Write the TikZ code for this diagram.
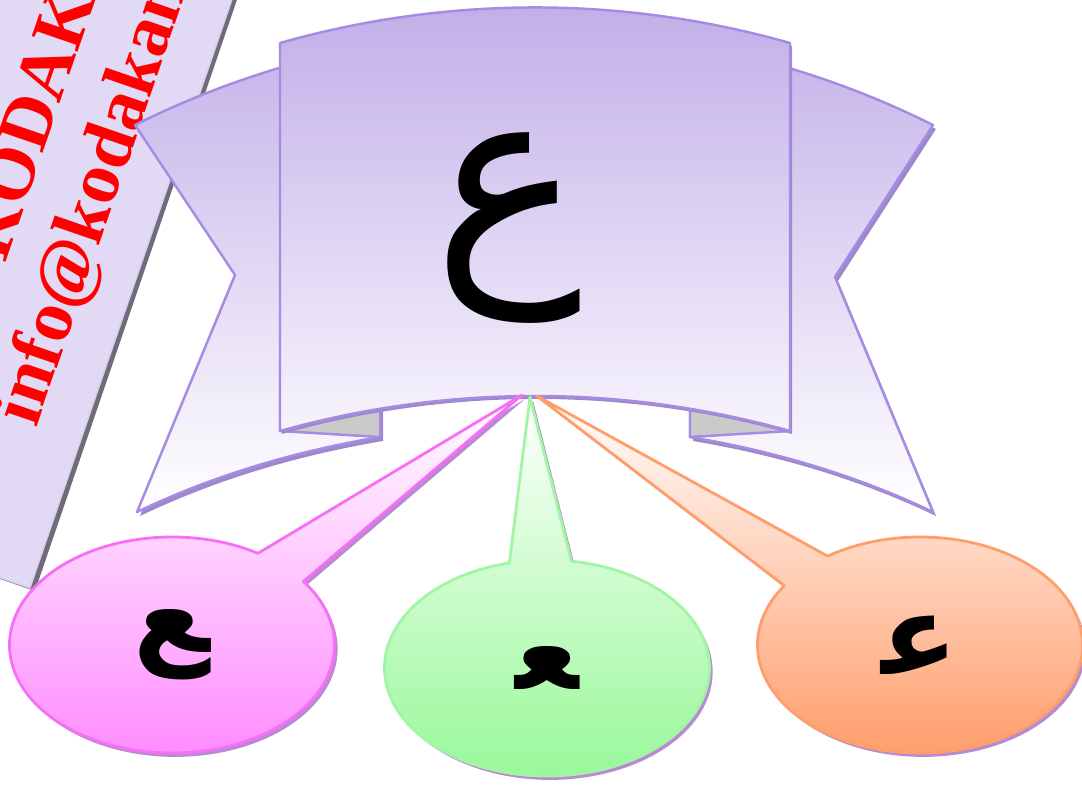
\documentclass[tikz,border=0pt]{standalone}
\usepackage{fontspec}
\usetikzlibrary{shapes.callouts, shadows}
\TeXXeTstate=1
\newfontfamily\arabicfont[Script=Arabic]{DejaVu Sans}
\newfontfamily\serifbold{Liberation Serif}

\definecolor{stripfill}{HTML}{E2DAF4}
\definecolor{stripline}{HTML}{D6CCEE}
\definecolor{stripshade}{HTML}{6E6C78}
\definecolor{ribbonline}{HTML}{A68BE2}
\definecolor{ribbontop}{HTML}{C0ADE8}
\definecolor{ribbonbottom}{HTML}{F7F4FC}
\definecolor{ribbonshade}{HTML}{9C89CC}
\definecolor{foldgray}{HTML}{CACACA}
\definecolor{pinkline}{HTML}{F76EF7}
\definecolor{pinkfill}{HTML}{FF88FF}
\definecolor{greenline}{HTML}{A2F5A2}
\definecolor{greenfill}{HTML}{96F896}
\definecolor{orangeline}{HTML}{FF9E6A}
\definecolor{orangefill}{HTML}{FF9A66}
\definecolor{bubbleshade}{HTML}{B98AD2}

\newcommand{\zwj}{^^^^200d}
\newcommand{\backribbon}{(1.35,6.59) .. controls (3.86,7.845) and (6.82,7.845) .. (9.33,6.59) -- (8.35,5.07) -- (9.33,2.72) .. controls (8.60,3.07) and (7.79,3.32) .. (6.90,3.47) -- (6.90,5.00) -- (3.80,5.00) -- (3.80,3.47) .. controls (2.91,3.32) and (2.10,3.07) .. (1.37,2.72) -- (2.35,5.09) -- cycle}
\newcommand{\frontpanel}{(2.80,7.41) .. controls (4.47,7.884) and (6.23,7.884) .. (7.90,7.41) -- (7.90,3.53) .. controls (6.23,3.997) and (4.47,3.997) .. (2.80,3.53) -- cycle}

\begin{document}
\begin{tikzpicture}[line join=round]
    \tikzstyle{ribbon} = [draw=ribbonline, line width=0.7pt]
    \tikzstyle{stripline} = [rotate=71, anchor=base west, inner sep=0pt, text=red, font=\serifbold\bfseries\fontsize{21}{21}\selectfont]
    \tikzstyle{bubble} = [ellipse callout, draw, line width=0.8pt, minimum width=3.25cm, minimum height=2.16cm, inner sep=0pt, callout pointer arc=22, top color=white, font=\arabicfont\bfseries\fontsize{32}{32}\selectfont, drop shadow={shadow xshift=0.9pt, shadow yshift=-1.1pt, fill=bubbleshade, opacity=1}]

    \useasboundingbox (0,0) rectangle (10.82,7.84);

    % Label strip
    \fill[stripshade] (0.35,1.93) -- (2.54,8.34) -- (-0.30,9.31) -- (-2.49,2.90) -- cycle;
    \fill[stripfill, draw=stripline] (0.30,1.96) -- (2.49,8.34) -- (-0.35,9.31) -- (-2.54,2.93) -- cycle;
    \node[stripline] (brand) at (0.05,5.20) {KODAKAN};
    \node[stripline] (mail) at (0.36,3.55) {info@kodakan.com};

    % Back ribbon
    \fill[ribbonshade, shift={(0.03,-0.04)}] \backribbon;
    \path[ribbon, top color=ribbontop, bottom color=white] \backribbon;

    % Folds
    \path[ribbon, fill=foldgray] (2.80,3.53) -- (3.80,3.47) -- (3.80,4.2) -- (2.80,4.2) -- cycle;
    \path[ribbon, fill=foldgray] (7.90,3.53) -- (6.90,3.47) -- (6.90,4.2) -- (7.90,4.2) -- cycle;

    % Front panel
    \fill[ribbonshade, shift={(0.02,-0.03)}] \frontpanel;
    \path[ribbon, top color=ribbontop, bottom color=ribbonbottom] \frontpanel;
    \node[font=\arabicfont\fontsize{71}{71}\selectfont] (ain) at (5.08,5.56) {\beginR ع\endR};

    % Pointer tips
    \coordinate (pinktip) at (5.22,3.89);
    \coordinate (greentip) at (5.30,3.87);
    \coordinate (orangetip) at (5.37,3.88);

    % Bubbles
    \node[bubble, draw=pinkline, bottom color=pinkfill, callout absolute pointer={(pinktip)}] (finalform) at (1.72,1.39) {\beginR\zwj ع\endR};
    \node[bubble, draw=greenline, bottom color=greenfill, callout absolute pointer={(greentip)}] (middleform) at (5.47,1.16) {\beginR\zwj ع\zwj\endR};
    \node[bubble, draw=orangeline, bottom color=orangefill, callout absolute pointer={(orangetip)}] (initialform) at (9.20,1.39) {\beginR ع\zwj\endR};
\end{tikzpicture}
\end{document}
